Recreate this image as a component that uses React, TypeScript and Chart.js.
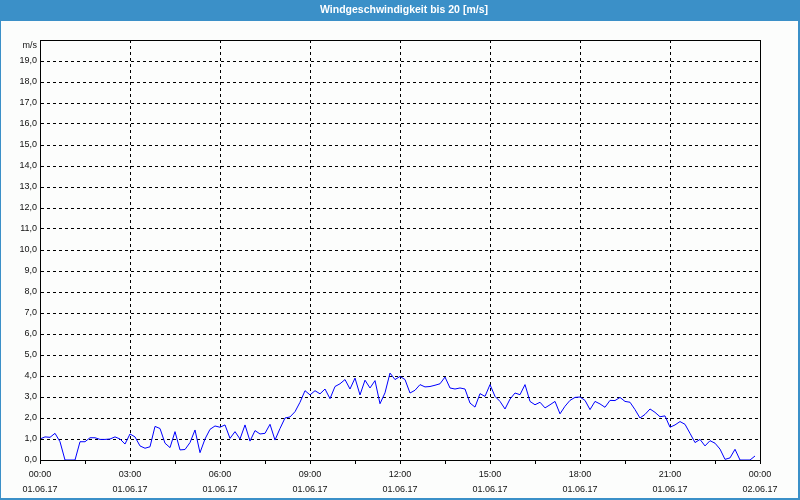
import React, { useEffect, useRef } from "react";
import { Chart, registerables } from "chart.js";

Chart.register(...registerables);

const chartTitle = "Windgeschwindigkeit bis 20 [m/s]";
const yUnitLabel = "m/s";
const stepMinutes = 10;
const xTickTimes = ["00:00", "03:00", "06:00", "09:00", "12:00", "15:00", "18:00", "21:00", "00:00"];
const xTickDates = ["01.06.17", "01.06.17", "01.06.17", "01.06.17", "01.06.17", "01.06.17", "01.06.17", "01.06.17", "02.06.17"];

// wind speed in m/s, one value every 10 minutes from 01.06.17 00:00
const windSpeed = [
  1.0, 1.1, 1.08, 1.27, 0.87, 0, 0, 0, 0.87, 0.87, 1.06, 1.06,
  0.98, 0.98, 1.0, 1.1, 1.0, 0.76, 1.24, 1.1, 0.67, 0.56, 0.63, 1.6,
  1.5, 0.8, 0.59, 1.35, 0.48, 0.5, 0.83, 1.43, 0.35, 1.0, 1.46, 1.62,
  1.56, 1.67, 1.03, 1.35, 1.0, 1.67, 0.9, 1.4, 1.24, 1.27, 1.7, 0.95,
  1.5, 2.0, 2.05, 2.3, 2.75, 3.3, 3.1, 3.3, 3.15, 3.38, 2.92, 3.5,
  3.63, 3.83, 3.38, 3.9, 3.1, 3.8, 3.43, 3.78, 2.68, 3.2, 4.14, 3.83,
  3.98, 3.83, 3.19, 3.32, 3.59, 3.48, 3.5, 3.56, 3.63, 3.95, 3.43, 3.38,
  3.43, 3.38, 2.71, 2.52, 3.16, 3.03, 3.59, 3.03, 2.79, 2.43, 2.9, 3.19,
  3.11, 3.59, 2.79, 2.63, 2.75, 2.48, 2.63, 2.79, 2.2, 2.56, 2.84, 2.98,
  3.0, 2.84, 2.4, 2.79, 2.67, 2.51, 2.84, 2.83, 2.98, 2.79, 2.75, 2.4,
  2.0, 2.17, 2.43, 2.27, 2.06, 2.1, 1.56, 1.67, 1.83, 1.7, 1.27, 0.83,
  0.98, 0.67, 0.92, 0.8, 0.52, 0.03, 0.1, 0.51, 0, 0, 0, 0.19,
];

const BLUE = "#3b90c8";
const TEXT_COLOR = "#111111";
const TICK_FONT = { family: "'Liberation Sans', Arial, sans-serif", size: 9 };

const framePlugin = {
  id: "frame",
  beforeDraw(chart: any) {
    const { ctx, width, height } = chart;
    ctx.save();
    ctx.fillStyle = "#fcfdfc";
    ctx.fillRect(0, 0, width, height);
    ctx.fillStyle = BLUE;
    ctx.fillRect(0, 0, width, 21);
    ctx.fillRect(0, 0, 1, height);
    ctx.fillRect(width - 2, 0, 2, height);
    ctx.fillRect(0, height - 2, width, 2);
    ctx.fillStyle = "#ffffff";
    ctx.font = "bold 10.5px 'Liberation Sans', Arial, sans-serif";
    ctx.textAlign = "center";
    ctx.textBaseline = "middle";
    ctx.fillText(chartTitle, width / 2 + 4, 10.5);
    ctx.restore();
  },
  afterDatasetsDraw(chart: any) {
    const { ctx, chartArea } = chart;
    ctx.save();
    ctx.strokeStyle = "#000000";
    ctx.lineWidth = 1;
    ctx.strokeRect(
      Math.round(chartArea.left) + 0.5,
      Math.round(chartArea.top) + 0.5,
      Math.round(chartArea.right - chartArea.left),
      Math.round(chartArea.bottom - chartArea.top)
    );
    ctx.fillStyle = TEXT_COLOR;
    ctx.font = "9px 'Liberation Sans', Arial, sans-serif";
    ctx.textAlign = "right";
    ctx.textBaseline = "middle";
    ctx.fillText(yUnitLabel, chartArea.left - 3, chartArea.top + 6);
    ctx.restore();
  },
};

export default function App() {
  const canvasRef = useRef<HTMLCanvasElement | null>(null);

  useEffect(() => {
    document.body.style.margin = "0";
    const canvas = canvasRef.current;
    if (!canvas) return;
    const points = windSpeed.map((v, i) => ({ x: i * stepMinutes, y: v }));
    const chart = new Chart(canvas, {
      type: "line",
      data: {
        datasets: [
          {
            data: points,
            borderColor: "#0000ff",
            borderWidth: 1,
            pointRadius: 0,
            tension: 0,
            fill: false,
          },
        ],
      },
      options: {
        animation: false,
        responsive: false,
        maintainAspectRatio: false,
        layout: { padding: { left: 0, right: 40, top: 40, bottom: 0 } },
        plugins: {
          legend: { display: false },
          title: { display: false },
          tooltip: { enabled: false },
        },
        scales: {
          x: {
            type: "linear",
            min: 0,
            max: 1440,
            afterFit(scale: any) {
              scale.height = 40;
            },
            ticks: {
              stepSize: 90,
              autoSkip: false,
              maxRotation: 0,
              padding: 3,
              color: TEXT_COLOR,
              font: { ...TICK_FONT, lineHeight: 1.7 },
              callback: (value: any) => {
                const v = Number(value);
                if (v % 180 !== 0) return "";
                const i = v / 180;
                return [xTickTimes[i], xTickDates[i]];
              },
            },
            grid: {
              color: (c: any) =>
                c.tick && c.tick.value % 180 === 0 ? "#000000" : "rgba(0,0,0,0)",
              tickColor: "#000000",
              tickLength: 4,
              lineWidth: 1,
            },
            border: { display: true, color: "#000000", dash: [3, 3] },
          },
          y: {
            min: 0,
            max: 20,
            afterFit(scale: any) {
              scale.width = 40;
            },
            ticks: {
              stepSize: 1,
              padding: 3,
              color: TEXT_COLOR,
              font: TICK_FONT,
              callback: (value: any) => {
                const v = Number(value);
                if (v === 20) return "";
                return v.toFixed(1).replace(".", ",");
              },
            },
            grid: {
              color: "#000000",
              lineWidth: 1,
              drawTicks: false,
            },
            border: { display: true, color: "#000000", dash: [3, 3] },
          },
        },
      },
      plugins: [framePlugin],
    });
    return () => chart.destroy();
  }, []);

  return (
    <div style={{ position: "absolute", left: 0, top: 0, width: 800, height: 500 }}>
      <canvas ref={canvasRef} width={800} height={500} style={{ display: "block" }} />
    </div>
  );
}
